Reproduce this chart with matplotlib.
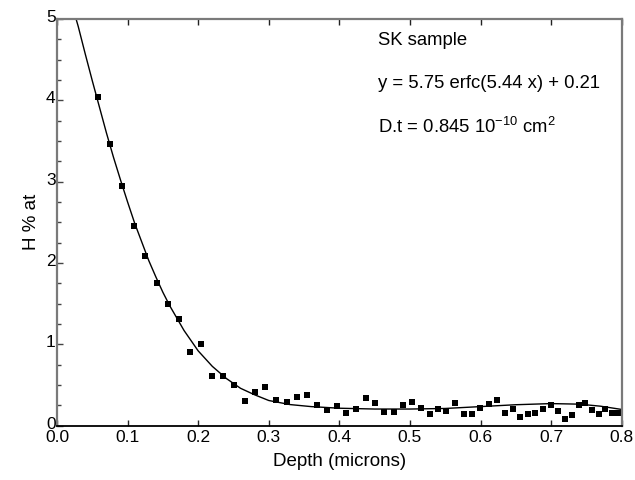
import matplotlib
matplotlib.use("Agg")
import matplotlib.pyplot as plt
from matplotlib.ticker import MultipleLocator
from matplotlib.transforms import ScaledTranslation

plt.rcParams['font.family'] = ['Liberation Sans', 'DejaVu Sans']
plt.rcParams['mathtext.fontset'] = 'custom'
plt.rcParams['mathtext.rm'] = 'Liberation Sans'
plt.rcParams['mathtext.default'] = 'regular'

# measured data points
depth = [0.0585, 0.0755, 0.0920, 0.1086, 0.1246, 0.1411, 0.1572, 0.1733, 0.1888, 0.2040,
         0.2200, 0.2356, 0.2507, 0.2658, 0.2805, 0.2951, 0.3107, 0.3253, 0.3398, 0.3547,
         0.3683, 0.3820, 0.3965, 0.4098, 0.4240, 0.4373, 0.4505, 0.4638, 0.4774, 0.4901,
         0.5029, 0.5152, 0.5278, 0.5402, 0.5517, 0.5643, 0.5761, 0.5879, 0.5997, 0.6114,
         0.6233, 0.6346, 0.6455, 0.6559, 0.6668, 0.6776, 0.6885, 0.6994, 0.7093, 0.7192,
         0.7292, 0.7390, 0.7484, 0.7577, 0.7674, 0.7762, 0.7856, 0.7950]
h_at = [4.04, 3.46, 2.95, 2.46, 2.09, 1.75, 1.50, 1.31, 0.91, 1.01,
        0.61, 0.61, 0.50, 0.30, 0.42, 0.48, 0.32, 0.29, 0.35, 0.38,
        0.26, 0.19, 0.24, 0.16, 0.20, 0.34, 0.28, 0.17, 0.17, 0.26,
        0.29, 0.22, 0.15, 0.20, 0.18, 0.28, 0.14, 0.14, 0.22, 0.27,
        0.32, 0.16, 0.20, 0.11, 0.15, 0.16, 0.20, 0.26, 0.18, 0.08,
        0.13, 0.25, 0.28, 0.19, 0.14, 0.20, 0.16, 0.16]

# fitted curve
fit_x = [0.027, 0.03, 0.04, 0.05, 0.06, 0.07, 0.08, 0.09, 0.10, 0.11, 0.12, 0.13, 0.14,
         0.15, 0.16, 0.18, 0.20, 0.22, 0.24, 0.26, 0.28, 0.30, 0.33, 0.36, 0.40, 0.45,
         0.50, 0.55, 0.60, 0.65, 0.70, 0.74, 0.77, 0.80]
fit_y = [5.00, 4.91, 4.57, 4.24, 3.92, 3.60, 3.30, 3.02, 2.75, 2.49, 2.26, 2.03, 1.83,
         1.64, 1.47, 1.17, 0.92, 0.73, 0.58, 0.46, 0.38, 0.31, 0.26, 0.235, 0.215, 0.205,
         0.205, 0.212, 0.235, 0.258, 0.272, 0.265, 0.24, 0.20]

x_ticks = [0.0, 0.1, 0.2, 0.3, 0.4, 0.5, 0.6, 0.7, 0.8]
x_tick_labels = ['0.0', '0.1', '0.2', '0.3', '0.4', '0.5', '0.6', '0.7', '0.8']
y_ticks = [0, 1, 2, 3, 4, 5]

fig = plt.figure(figsize=(6.35, 4.8), dpi=100)
ax = fig.add_axes([0.0898, 0.1131, 0.979 - 0.0898, 0.9604 - 0.1131])

ax.plot(fit_x, fit_y, color='black', lw=1.0)
ax.plot(depth, h_at, 's', color='black', markersize=4.2, markeredgewidth=0)

ax.set_xlim(0, 0.8)
ax.set_ylim(0, 5)
ax.set_xticks(x_ticks)
ax.set_xticklabels(x_tick_labels)
ax.set_yticks(y_ticks)
ax.yaxis.set_minor_locator(MultipleLocator(0.25))

gray = '#7a7a7a'
for s in ['left', 'top', 'right']:
    ax.spines[s].set_color(gray)
    ax.spines[s].set_linewidth(1.6)
ax.spines['bottom'].set_color('black')
ax.spines['bottom'].set_linewidth(1.3)

ax.tick_params(axis='x', which='major', direction='in', length=4, width=1,
               top=True, bottom=True, labelsize=12.5, pad=3, color='#222222')
ax.tick_params(axis='y', which='major', direction='in', length=4, width=1,
               left=True, right=False, labelsize=12.5, pad=1, color='#444444')
ax.tick_params(axis='y', which='minor', direction='in', length=3, width=1,
               left=True, right=False, color='#444444')

# y tick labels sit slightly above their ticks in the reference
offset = ScaledTranslation(0, 0.03, fig.dpi_scale_trans)
for lbl in ax.get_yticklabels():
    lbl.set_transform(lbl.get_transform() + offset)

ax.set_xlabel('Depth (microns)', fontsize=13.5, labelpad=6)
ax.set_ylabel('H % at', fontsize=13.5, labelpad=4)

ax.text(0.455, 4.68, 'SK sample', fontsize=13.3, va='baseline', ha='left')
ax.text(0.455, 4.148, 'y = 5.75 erfc(5.44 x) + 0.21', fontsize=13.3, va='baseline', ha='left')
ax.text(0.455, 3.602, 'D.t = 0.845 10$^{-10}$ cm$^{2}$', fontsize=13.3, va='baseline', ha='left')

fig.savefig('out.png', dpi=100)
